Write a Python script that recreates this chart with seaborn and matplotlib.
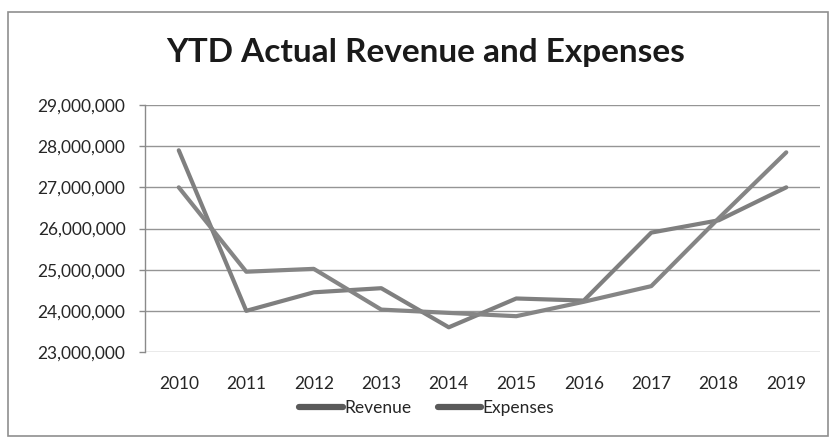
import matplotlib
matplotlib.use("Agg")
import matplotlib.pyplot as plt
import matplotlib.ticker as mticker
from matplotlib.patches import Rectangle
import seaborn as sns
import pandas as pd

years = ["2010", "2011", "2012", "2013", "2014", "2015", "2016", "2017", "2018", "2019"]
revenue = [27_900_000, 24_000_000, 24_450_000, 24_550_000, 23_600_000,
           24_300_000, 24_250_000, 25_900_000, 26_200_000, 27_000_000]
expenses = [27_000_000, 24_950_000, 25_020_000, 24_030_000, 23_950_000,
            23_870_000, 24_220_000, 24_600_000, 26_250_000, 27_850_000]
series_names = ["Revenue", "Expenses"]
y_ticks = [23_000_000, 24_000_000, 25_000_000, 26_000_000,
           27_000_000, 28_000_000, 29_000_000]

df = pd.DataFrame({
    "Year": years * 2,
    "Value": revenue + expenses,
    "Series": [series_names[0]] * len(years) + [series_names[1]] * len(years),
})

sns.set_theme(style="white")
plt.rcParams["font.family"] = ["Lato", "DejaVu Sans"]

fig = plt.figure(figsize=(8.32, 4.41), dpi=100)
ax = fig.add_axes([0.1743, 0.2018, 0.8113, 0.5601])

sns.lineplot(data=df, x="Year", y="Value", hue="Series",
             palette={series_names[0]: "#7f7f7f", series_names[1]: "#858585"},
             linewidth=3.0, ax=ax, legend=False, sort=False)

ax.set_xlim(-0.5, len(years) - 0.5)
ax.set_ylim(y_ticks[0], y_ticks[-1])
ax.set_yticks(y_ticks)
ax.yaxis.set_major_formatter(mticker.FuncFormatter(lambda v, p: f"{int(v):,}"))
ax.set_xlabel("")
ax.set_ylabel("")

ax.grid(axis="y", color="#959595", linewidth=1.0)
ax.set_axisbelow(True)
for side in ["top", "right", "bottom"]:
    ax.spines[side].set_visible(False)
ax.spines["left"].set_color("#8a8a8a")
ax.spines["left"].set_linewidth(1.0)

ax.tick_params(axis="y", which="major", left=True, length=4, width=1,
               color="#8a8a8a", pad=10, labelsize=12.5, labelcolor="#262626")
ax.tick_params(axis="x", bottom=False, pad=11, labelsize=12.5, labelcolor="#262626")

# legend with thick short handles below the axis
handles = [plt.Line2D([0], [0], color="#5a5a5a", linewidth=4.5) for _ in series_names]
fig.legend(handles, series_names, loc="center", bbox_to_anchor=(0.513, 0.074),
           ncol=2, frameon=False, fontsize=12.5, handlelength=2.5,
           handletextpad=0.1, columnspacing=1.5, labelcolor="#262626")

fig.text(0.512, 0.880, "YTD Actual Revenue and Expenses", ha="center", va="center",
         fontsize=24, fontweight="bold", color="#1a1a1a")

# chart-area border
fig.patches.append(Rectangle((8 / 832, 1 - 436 / 441), 820 / 832, 424 / 441,
                             transform=fig.transFigure, fill=False,
                             edgecolor="#8f8f8f", linewidth=1.2))

fig.savefig("out.png", dpi=100, facecolor="white")
